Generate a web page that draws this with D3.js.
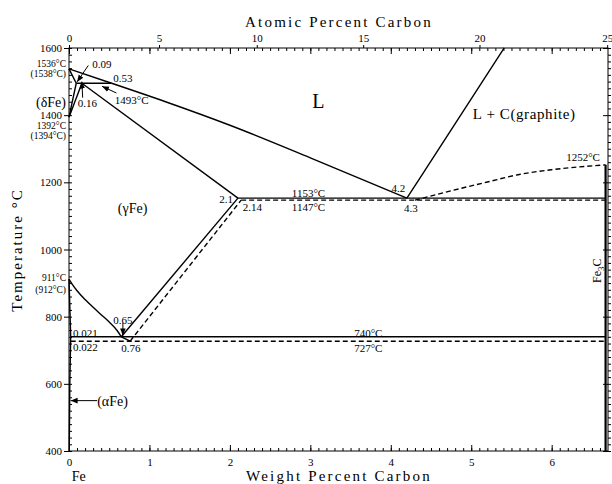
<!DOCTYPE html>
<html>
<head>
<meta charset="utf-8">
<script src="https://cdn.jsdelivr.net/npm/d3@7/dist/d3.min.js"></script>
<style>
body { margin: 0; background: #fff; }
text { font-family: "Liberation Serif", serif; fill: #000; }
</style>
</head>
<body>
<div id="my_dataviz"></div>
<script>
var width = 612;
var height = 484;

// phase boundaries, each point is [weight % C, temperature °C]
var deltaLiquidus = [[0, 1538], [0.53, 1495]];
var gammaLiquidus = [[0.53, 1495], [1.2, 1440], [2, 1370], [3, 1273], [4.2, 1153]];
var graphiteLiquidus = [[4.2, 1153], [4.36, 1212], [5.41, 1600]];
var cementiteLiquidus = [[4.3, 1147], [4.77, 1176], [5.2, 1201], [5.61, 1224], [6.02, 1238], [6.67, 1252]];
var deltaSolidus = [[0, 1538], [0.09, 1495]];
var deltaSolvus = [[0, 1394], [0.09, 1495]];
var gammaDelta = [[0, 1394], [0.16, 1495]];
var peritectic = [[0.09, 1495], [0.53, 1495]];
var gammaSolidus = [[0.16, 1495], [2.1, 1153]];
var acmGraphite = [[0.65, 740], [2.1, 1153]];
var acmCementite = [[0.76, 727], [2.14, 1147]];
var a3Line = [[0, 912], [0.05, 893], [0.1, 877], [0.2, 851], [0.3, 828], [0.4, 806], [0.5, 784], [0.6, 758], [0.65, 740]];
var a3Tail = [[0.65, 740], [0.76, 727]];
var alphaLine = [[0, 912], [0.021, 740]];
var alphaSolvus = [[0.021, 740], [0.01, 600], [0.003, 400]];
var eutecticGraphite = [[2.1, 1153], [6.67, 1153]];
var eutecticCementite = [[2.14, 1147], [6.67, 1147]];
var eutectoidGraphite = [[0.021, 740], [6.67, 740]];
var eutectoidCementite = [[0.022, 727], [6.67, 727]];
var fe3cLine = [[6.67, 1252], [6.67, 400]];

var solidLines = [deltaLiquidus, gammaLiquidus, graphiteLiquidus, deltaSolidus, deltaSolvus, gammaDelta,
                  peritectic, gammaSolidus, acmGraphite, a3Line, a3Tail, alphaLine, alphaSolvus,
                  eutecticGraphite, eutectoidGraphite];
var dashedLines = [cementiteLiquidus, acmCementite, eutecticCementite, eutectoidCementite];

// ticks
var weightTicks = [0, 1, 2, 3, 4, 5, 6];
var atomicTicks = [0, 5, 10, 15, 20, 25];
var tempTicks = [400, 600, 800, 1000, 1200, 1400, 1600];

// annotations: text, weight %, temperature, anchor
var notes = [
    ['0.09', 0.29, 1552, 'start'],
    ['0.53', 0.55, 1510, 'start'],
    ['0.16', 0.11, 1435, 'start'],
    ['1493°C', 0.57, 1446, 'start'],
    ['4.2', 4.18, 1183, 'end'],
    ['4.3', 4.25, 1123, 'middle'],
    ['2.1', 2.04, 1149, 'end'],
    ['2.14', 2.16, 1127, 'start'],
    ['1153°C', 2.77, 1168, 'start'],
    ['1147°C', 2.77, 1127, 'start'],
    ['1252°C', 6.6, 1275, 'end'],
    ['0.65', 0.67, 790, 'middle'],
    ['0.021', 0.05, 750, 'start'],
    ['0.022', 0.05, 708, 'start'],
    ['0.76', 0.77, 705, 'middle'],
    ['740°C', 3.72, 750, 'middle'],
    ['727°C', 3.72, 705, 'middle']
];
var leftNotes = [
    ['1536°C', 1554], ['(1538°C)', 1523], ['1392°C', 1369], ['(1394°C)', 1339],
    ['911°C', 915], ['(912°C)', 881]
];
var arrows = [
    [[0.24, 1548], [0.1, 1499]],
    [[0.17, 1452], [0.16, 1500]],
    [[0.59, 1466], [0.41, 1486]],
    [[0.67, 782], [0.67, 744]],
    [[0.35, 550], [0.02, 550]]
];

function toWeight(a) {
    return 100 * a * 12.011 / (a * 12.011 + (100 - a) * 55.845);
}

var svg = d3.select("#my_dataviz").append('svg').attr('width', width).attr('height', height);

var x = d3.scaleLinear().domain([0, 6.7]).range([69, 608]);
var y = d3.scaleLinear().domain([400, 1600]).range([451, 48]);

svg.append('defs').append('marker')
    .attr('id', 'arr').attr('viewBox', '0 0 10 10')
    .attr('refX', 10).attr('refY', 5)
    .attr('markerWidth', 7).attr('markerHeight', 7)
    .attr('markerUnits', 'userSpaceOnUse')
    .attr('orient', 'auto')
    .append('path').attr('d', 'M0,1 L10,5 L0,9 Z').attr('fill', '#000');

// axes
var axisGroup = svg.append('g').attr('class', 'axes');

function styleAxis(g) {
    g.selectAll('.domain').remove();
    g.selectAll('line').attr('stroke', '#000');
    g.selectAll('text').style('font-family', '"Liberation Serif", serif').style('font-size', '11px');
}

var minorWeight = d3.range(0, 67).map(function(i){ return i / 10; });
var minorTemp = d3.range(400, 1601, 20);

axisGroup.append('g').attr('transform', 'translate(0,451)')
    .call(d3.axisTop(x).tickValues(minorWeight).tickSize(3).tickFormat('')).call(styleAxis);
axisGroup.append('g').attr('transform', 'translate(0,451)')
    .call(d3.axisBottom(x).tickValues(weightTicks).tickSize(-6).tickPadding(7).tickFormat(d3.format('d'))).call(styleAxis);

axisGroup.append('g').attr('transform', 'translate(0,48)')
    .call(d3.axisBottom(x).tickValues(minorWeight).tickSize(3).tickFormat('')).call(styleAxis);
axisGroup.append('g').attr('transform', 'translate(0,48)')
    .call(d3.axisBottom(x).tickValues(weightTicks).tickSize(6).tickFormat('')).call(styleAxis);
axisGroup.append('g').attr('transform', 'translate(0,48)')
    .call(d3.axisTop(x).tickValues(atomicTicks.map(toWeight)).tickSize(3).tickPadding(3)
        .tickFormat(function(d, i){ return atomicTicks[i]; })).call(styleAxis);

axisGroup.append('g').attr('transform', 'translate(69,0)')
    .call(d3.axisRight(y).tickValues(minorTemp).tickSize(3).tickFormat('')).call(styleAxis);
axisGroup.append('g').attr('transform', 'translate(69,0)')
    .call(d3.axisLeft(y).tickValues(tempTicks).tickSize(5).tickPadding(2).tickFormat(d3.format('d'))).call(styleAxis);

axisGroup.append('g').attr('transform', 'translate(608,0)')
    .call(d3.axisRight(y).tickValues(minorTemp).tickSize(3).tickFormat('')).call(styleAxis);
axisGroup.append('g').attr('transform', 'translate(608,0)')
    .call(d3.axisLeft(y).tickValues(tempTicks).tickSize(5).tickFormat('')).call(styleAxis);

axisGroup.append('rect').attr('x', 69).attr('y', 48).attr('width', 608 - 69).attr('height', 451 - 48)
    .attr('fill', 'none').attr('stroke', '#000').attr('stroke-width', 1);

// titles
svg.append('text').attr('x', 339).attr('y', 27).attr('text-anchor', 'middle')
    .style('font-size', '15px').style('letter-spacing', '2.2px').text('Atomic Percent Carbon');
svg.append('text').attr('x', 339).attr('y', 481).attr('text-anchor', 'middle')
    .style('font-size', '15px').style('letter-spacing', '2.2px').text('Weight Percent Carbon');
svg.append('text').attr('transform', 'translate(22,250) rotate(-90)').attr('text-anchor', 'middle')
    .style('font-size', '15px').style('letter-spacing', '2px').text('Temperature °C');
svg.append('text').attr('x', x(0.12)).attr('y', 481).attr('text-anchor', 'middle')
    .style('font-size', '14px').text('Fe');

// phase lines
var line = d3.line().x(function(d){ return x(d[0]); }).y(function(d){ return y(d[1]); })
    .curve(d3.curveMonotoneX);
var lineY = d3.line().x(function(d){ return x(d[0]); }).y(function(d){ return y(d[1]); })
    .curve(d3.curveMonotoneY);

var lineGroup = svg.append('g').attr('class', 'phase_lines');

lineGroup.selectAll('.solid').data(solidLines).enter().append('path')
    .attr('class', 'solid')
    .attr('d', function(d){ return d === alphaSolvus ? lineY(d) : line(d); })
    .attr('fill', 'none').attr('stroke', '#000').attr('stroke-width', 1.4);

lineGroup.selectAll('.dashed').data(dashedLines).enter().append('path')
    .attr('class', 'dashed')
    .attr('d', line)
    .attr('fill', 'none').attr('stroke', '#000').attr('stroke-width', 1.4)
    .attr('stroke-dasharray', '5,3');

lineGroup.append('path').attr('d', lineY(fe3cLine))
    .attr('fill', 'none').attr('stroke', '#000').attr('stroke-width', 2.2);

// arrows
svg.append('g').selectAll('line').data(arrows).enter().append('line')
    .attr('x1', function(d){ return x(d[0][0]); }).attr('y1', function(d){ return y(d[0][1]); })
    .attr('x2', function(d){ return x(d[1][0]); }).attr('y2', function(d){ return y(d[1][1]); })
    .attr('stroke', '#000').attr('stroke-width', 1)
    .attr('marker-end', 'url(#arr)');

// labels
var noteGroup = svg.append('g').attr('class', 'notes');
noteGroup.selectAll('.note').data(notes).enter().append('text')
    .attr('class', 'note')
    .attr('x', function(d){ return x(d[1]); })
    .attr('y', function(d){ return y(d[2]); })
    .attr('dy', '0.35em')
    .attr('text-anchor', function(d){ return d[3]; })
    .style('font-size', '11px')
    .text(function(d){ return d[0]; });

noteGroup.selectAll('.lnote').data(leftNotes).enter().append('text')
    .attr('class', 'lnote')
    .attr('x', 66)
    .attr('y', function(d){ return y(d[1]); })
    .attr('dy', '0.35em')
    .attr('text-anchor', 'end')
    .style('font-size', '9.5px')
    .text(function(d){ return d[0]; });

noteGroup.append('text').attr('x', 66).attr('y', y(1440)).attr('dy', '0.35em')
    .attr('text-anchor', 'end').style('font-size', '14px').text('(δFe)');
noteGroup.append('text').attr('x', x(0.79)).attr('y', y(1124)).attr('dy', '0.35em')
    .attr('text-anchor', 'middle').style('font-size', '14px').text('(γFe)');
noteGroup.append('text').attr('x', x(0.35)).attr('y', y(550)).attr('dy', '0.35em')
    .attr('text-anchor', 'start').style('font-size', '14px').text('(αFe)');
noteGroup.append('text').attr('x', x(3.1)).attr('y', y(1443)).attr('dy', '0.35em')
    .attr('text-anchor', 'middle').style('font-size', '20px').text('L');
noteGroup.append('text').attr('x', x(5.02)).attr('y', y(1403)).attr('dy', '0.35em')
    .attr('text-anchor', 'start').style('font-size', '15px').style('letter-spacing', '0.6px').text('L + C(graphite)');

var fe3c = noteGroup.append('text').attr('transform', 'translate(' + (x(6.67) - 5) + ',' + y(937) + ') rotate(-90)')
    .attr('text-anchor', 'middle').style('font-size', '12px');
fe3c.append('tspan').text('Fe');
fe3c.append('tspan').attr('dy', '3').style('font-size', '9px').text('3');
fe3c.append('tspan').attr('dy', '-3').text('C');
</script>
</body>
</html>
